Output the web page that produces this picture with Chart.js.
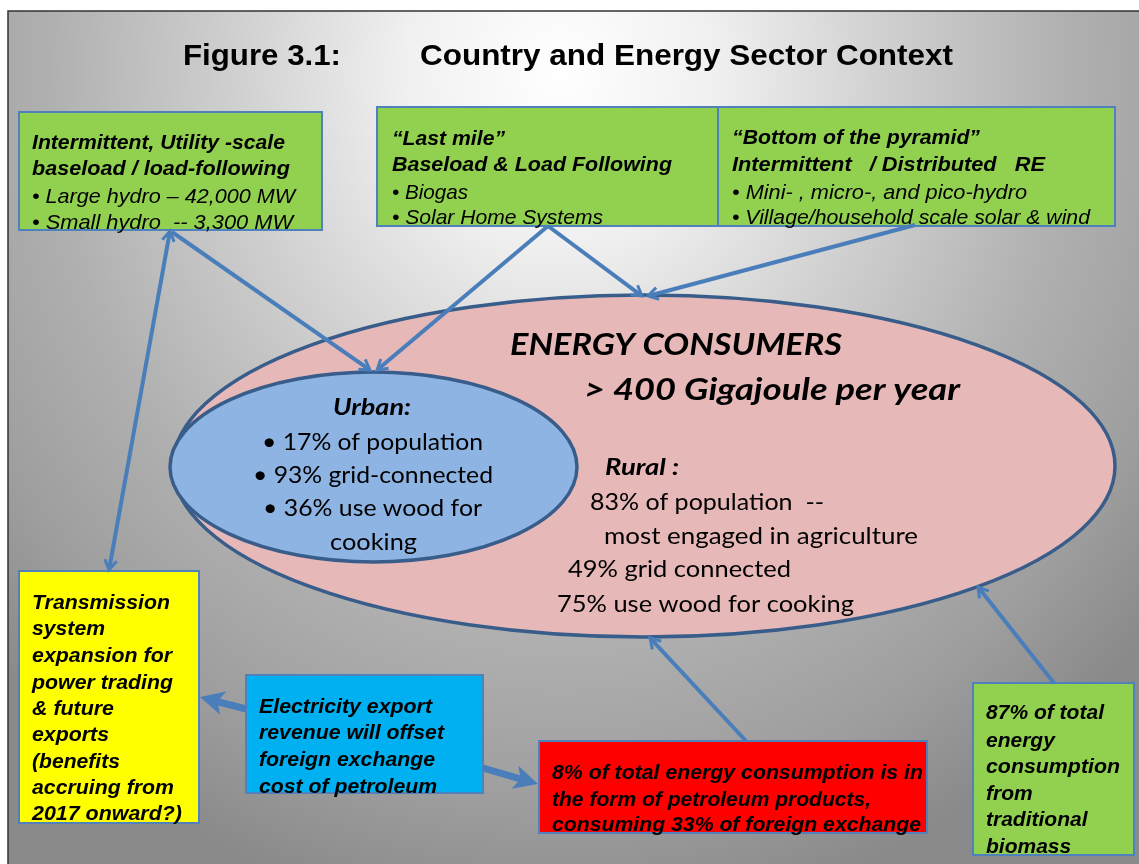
<!DOCTYPE html>
<html><head><meta charset="utf-8">
<script src="https://cdn.jsdelivr.net/npm/chart.js@4.4.1/dist/chart.umd.min.js"></script>
<style>html,body{margin:0;padding:0;background:#fff;overflow:hidden}canvas{display:block}</style>
</head><body>
<canvas id="c" width="1139" height="864"></canvas>
<script>
// ---------------- data (content of the figure) ----------------
const figureNumber = ["Figure 3.1:"];
const figureTitle = ["Country and Energy Sector Context"];
const hydroCapacityMW = [42000, 3300];          // large hydro, small hydro
const urbanSharePct = [17, 93, 36];             // population, grid-connected, wood for cooking
const ruralSharePct = [83, 49, 75];             // population, grid connected, wood for cooking
const consumptionGJPerYear = [400];
const petroleumSharePct = [8, 33];              // share of energy, share of foreign exchange
const biomassSharePct = [87];
const exportStartYear = [2017];

const fmt = v => v.toLocaleString('en-US');

// ---------------- layout & style ----------------
const ARIAL = '"Liberation Sans", Arial, sans-serif';
const CAL = 'Lato, "Open Sans", sans-serif';
const fB = s => `italic bold ${s}px ${ARIAL}`;
const fI = s => `italic ${s}px ${ARIAL}`;
const cB = s => `italic bold ${s}px ${CAL}`;
const cR = s => `${s}px ${CAL}`;

const COL = {
  arrow: '#4a7ebb', arrowLight: '#b7cbe6', boxEdge: '#4f81bd', ellEdge: '#385d8a',
  green: '#92d050', pink: '#e6b9b8', urban: '#8eb4e3', cyan: '#00b0f0', red: '#ff0000', yellow: '#ffff00'
};

const boxes = [
  {x0: 19, y0: 112, x1: 322, y1: 230, fill: COL.green},
  {x0: 377, y0: 107, x1: 718, y1: 226, fill: COL.green},
  {x0: 718, y0: 107, x1: 1115, y1: 226, fill: COL.green},
  {x0: 19, y0: 571, x1: 199, y1: 823, fill: COL.yellow},
  {x0: 246, y0: 675, x1: 483, y1: 793, fill: COL.cyan},
  {x0: 539, y0: 741, x1: 927, y1: 833, fill: COL.red},
  {x0: 973, y0: 683, x1: 1134, y1: 855, fill: COL.green}
];
const ellipses = [
  {cx: 644, cy: 466, rx: 471, ry: 171, fill: COL.pink},
  {cx: 373.5, cy: 467, rx: 203.5, ry: 95, fill: COL.urban}
];
const arrows = [
  {from: [170, 231], to: [109, 570], both: true},
  {from: [172, 232], to: [370, 370]},
  {from: [548, 226], to: [377, 370]},
  {from: [548, 226], to: [642, 296]},
  {from: [915, 225], to: [648, 296]},
  {from: [746, 741], to: [650, 638]},
  {from: [1054, 683], to: [978, 587]},
  {from: [246, 709], to: [200, 697], dbl: true},
  {from: [483, 768], to: [538, 784], dbl: true}
];

// text lines: [text, x(left), yCenter, targetWidth|null, font]
const texts = [
  [figureNumber[0], 183, 57, 158, `bold 30px ${ARIAL}`],
  [figureTitle[0], 420, 57, 533, `bold 30px ${ARIAL}`],

  ["Intermittent, Utility -scale", 32, 143, 253, fB(21)],
  ["baseload / load-following", 32, 169, 258, fB(21)],
  [`• Large hydro – ${fmt(hydroCapacityMW[0])} MW`, 32, 197, 263, fI(21)],
  [`• Small hydro  -- ${fmt(hydroCapacityMW[1])} MW`, 32, 223, 261, fI(21)],

  ["“Last mile”", 392, 139, 113, fB(21)],
  ["Baseload & Load Following", 392, 165, 280, fB(21)],
  ["• Biogas", 392, 193, 76, fI(21)],
  ["• Solar Home Systems", 392, 218, 211, fI(21)],

  ["“Bottom of the pyramid”", 732, 138, 248, fB(21)],
  ["Intermittent   / Distributed   RE", 732, 165, 313, fB(21)],
  ["• Mini- , micro-, and pico-hydro", 732, 193, 295, fI(21)],
  ["• Village/household scale solar & wind", 732, 218, 358, fI(21)],

  ["ENERGY CONSUMERS", 510, 345, 332, cB(30)],
  [`> ${consumptionGJPerYear[0]} Gigajoule per year`, 584, 390, 376, cB(30)],
  ["Rural :", 605, 468, 74, cB(22)],
  [`${ruralSharePct[0]}% of population  --`, 590, 503, 234, cR(23)],
  ["most engaged in agriculture", 604, 537, 314, cR(23)],
  [`${ruralSharePct[1]}% grid connected`, 568, 570, 223, cR(23)],
  [`${ruralSharePct[2]}% use wood for cooking`, 557, 605, 297, cR(23)],

  ["Urban:", 333, 408, 78, cB(23)],
  [`• ${urbanSharePct[0]}% of population`, 262, 442, 221, cR(24)],
  [`• ${urbanSharePct[1]}% grid-connected`, 253, 475, 240, cR(24)],
  [`• ${urbanSharePct[2]}% use wood for`, 263, 508, 219, cR(24)],
  ["cooking", 330, 542, 87, cR(24)],

  ["Transmission", 32, 603, 138, fB(21)],
  ["system", 32, 629, 73, fB(21)],
  ["expansion for", 32, 656, 140, fB(21)],
  ["power trading", 32, 683, 141, fB(21)],
  ["& future", 32, 709, 82, fB(21)],
  ["exports", 32, 735, 77, fB(21)],
  ["(benefits", 32, 762, 88, fB(21)],
  ["accruing from", 32, 788, 142, fB(21)],
  [`${exportStartYear[0]} onward?)`, 32, 814, 150, fB(21)],

  ["Electricity export", 259, 707, 173, fB(21)],
  ["revenue will offset", 259, 733, 185, fB(21)],
  ["foreign exchange", 259, 760, 176, fB(21)],
  ["cost of petroleum", 259, 787, 178, fB(21)],

  [`${petroleumSharePct[0]}% of total energy consumption is in`, 552, 773, 371, fB(21)],
  ["the form of petroleum products,", 552, 800, 319, fB(21)],
  [`consuming ${petroleumSharePct[1]}% of foreign exchange`, 552, 825, 369, fB(21)],

  [`${biomassSharePct[0]}% of total`, 986, 713, 118, fB(21)],
  ["energy", 986, 741, null, fB(21)],
  ["consumption", 986, 767, 134, fB(21)],
  ["from", 986, 794, null, fB(21)],
  ["traditional", 986, 820, null, fB(21)],
  ["biomass", 986, 847, null, fB(21)]
];

// ---------------- datasets built from the layout ----------------
function shorten(a, b, d) {
  const dx = b[0] - a[0], dy = b[1] - a[1], L = Math.hypot(dx, dy);
  return [b[0] - dx / L * d, b[1] - dy / L * d];
}
const datasets = [];
arrows.forEach(a => {
  const hl = a.dbl ? 16 : 2;
  const end = shorten(a.from, a.to, hl);
  const start = a.both ? shorten(a.to, a.from, hl) : a.from;
  const pts = [{x: start[0], y: start[1]}, {x: end[0], y: end[1]}];
  if (a.dbl) {
    datasets.push({data: pts, showLine: true, borderColor: COL.arrow, borderWidth: 7, pointRadius: 0, borderCapStyle: 'butt'});
    datasets.push({data: pts.map(p => ({...p})), showLine: true, borderColor: COL.arrowLight, borderWidth: 1.5, pointRadius: 0, borderCapStyle: 'butt'});
  } else {
    datasets.push({data: pts, showLine: true, borderColor: COL.arrow, borderWidth: 4, pointRadius: 0, borderCapStyle: 'butt'});
  }
});

// ---------------- drawing plugin ----------------
function drawText(ctx, s, x, y, font, w) {
  ctx.font = font;
  const m = ctx.measureText(s).width;
  let k = w ? w / m : 1;
  k = Math.max(0.8, Math.min(1.25, k));
  ctx.save();
  ctx.translate(x, y);
  ctx.scale(k, 1);
  ctx.textAlign = 'left';
  ctx.textBaseline = 'middle';
  ctx.fillStyle = '#000';
  ctx.fillText(s, 0, 0);
  ctx.restore();
}
function unit(tip, from) {
  const dx = tip[0] - from[0], dy = tip[1] - from[1], L = Math.hypot(dx, dy);
  return [dx / L, dy / L];
}
function solidHead(ctx, tip, from, len, hw) {
  const [ux, uy] = unit(tip, from), nx = -uy, ny = ux;
  const bx = tip[0] - ux * len, by = tip[1] - uy * len;
  ctx.beginPath();
  ctx.moveTo(tip[0], tip[1]);
  ctx.lineTo(bx + nx * hw, by + ny * hw);
  ctx.lineTo(tip[0] - ux * len * 0.75, tip[1] - uy * len * 0.75);
  ctx.lineTo(bx - nx * hw, by - ny * hw);
  ctx.closePath();
  ctx.fillStyle = COL.arrow;
  ctx.fill();
}
function openHead(ctx, tip, from, len, hw) {
  const [ux, uy] = unit(tip, from), nx = -uy, ny = ux;
  const bx = tip[0] - ux * len, by = tip[1] - uy * len;
  ctx.beginPath();
  ctx.moveTo(bx + nx * hw, by + ny * hw);
  ctx.lineTo(tip[0], tip[1]);
  ctx.lineTo(bx - nx * hw, by - ny * hw);
  ctx.strokeStyle = COL.arrow;
  ctx.lineWidth = 3;
  ctx.lineJoin = 'miter';
  ctx.lineCap = 'butt';
  ctx.stroke();
}

const diagram = {
  id: 'diagram',
  beforeDraw(chart) {
    const ctx = chart.ctx, X = chart.scales.x, Y = chart.scales.y;
    const px = v => X.getPixelForValue(v), py = v => Y.getPixelForValue(v);
    ctx.save();
    ctx.fillStyle = '#fff';
    ctx.fillRect(0, 0, chart.width, chart.height);
    const x0 = px(8), y0 = py(11);
    ctx.save();
    ctx.beginPath();
    ctx.rect(x0, y0, chart.width - x0, chart.height - y0);
    ctx.clip();
    ctx.translate(px(560), py(70));
    ctx.scale(0.9, 1);
    const g = ctx.createRadialGradient(0, 0, 0, 0, 0, 860);
    g.addColorStop(0, '#ffffff');
    g.addColorStop(0.2, '#f0f0f0');
    g.addColorStop(0.42, '#d0d0d0');
    g.addColorStop(0.66, '#b0b0b0');
    g.addColorStop(0.85, '#9e9e9e');
    g.addColorStop(1, '#8a8a8a');
    ctx.fillStyle = g;
    ctx.fillRect(-1400, -200, 2800, 1200);
    ctx.restore();
    ctx.strokeStyle = '#333';
    ctx.lineWidth = 1.5;
    ctx.beginPath();
    ctx.moveTo(x0, chart.height);
    ctx.lineTo(x0, y0);
    ctx.lineTo(chart.width, y0);
    ctx.stroke();
    ctx.restore();
  },
  beforeDatasetsDraw(chart) {
    const ctx = chart.ctx, X = chart.scales.x, Y = chart.scales.y;
    const px = v => X.getPixelForValue(v), py = v => Y.getPixelForValue(v);
    ctx.save();
    boxes.forEach(b => {
      ctx.fillStyle = b.fill;
      ctx.fillRect(px(b.x0), py(b.y0), px(b.x1) - px(b.x0), py(b.y1) - py(b.y0));
      ctx.strokeStyle = COL.boxEdge;
      ctx.lineWidth = 2;
      ctx.strokeRect(px(b.x0), py(b.y0), px(b.x1) - px(b.x0), py(b.y1) - py(b.y0));
    });
    ellipses.forEach(e => {
      ctx.beginPath();
      ctx.ellipse(px(e.cx), py(e.cy), px(e.cx + e.rx) - px(e.cx), py(e.cy + e.ry) - py(e.cy), 0, 0, Math.PI * 2);
      ctx.fillStyle = e.fill;
      ctx.fill();
      ctx.strokeStyle = COL.ellEdge;
      ctx.lineWidth = 3.5;
      ctx.stroke();
    });
    ctx.restore();
  },
  afterDatasetsDraw(chart) {
    const ctx = chart.ctx, X = chart.scales.x, Y = chart.scales.y;
    const P = p => [X.getPixelForValue(p[0]), Y.getPixelForValue(p[1])];
    ctx.save();
    arrows.forEach(a => {
      const f = P(a.from), t = P(a.to);
      if (a.dbl) solidHead(ctx, t, f, 24, 12);
      else openHead(ctx, t, f, 10, 6);
      if (a.both) openHead(ctx, f, t, 10, 6);
    });
    texts.forEach(t => {
      drawText(ctx, t[0], X.getPixelForValue(t[1]), Y.getPixelForValue(t[2]), t[4], t[3]);
    });
    ctx.restore();
  }
};

new Chart(document.getElementById('c'), {
  type: 'scatter',
  data: {datasets},
  options: {
    responsive: false,
    animation: false,
    devicePixelRatio: 1,
    events: [],
    layout: {padding: 0},
    plugins: {legend: {display: false}, tooltip: {enabled: false}},
    scales: {
      x: {type: 'linear', min: 0, max: 1139, display: false},
      y: {type: 'linear', min: 0, max: 864, reverse: true, display: false}
    }
  },
  plugins: [diagram]
});
</script>
</body></html>
